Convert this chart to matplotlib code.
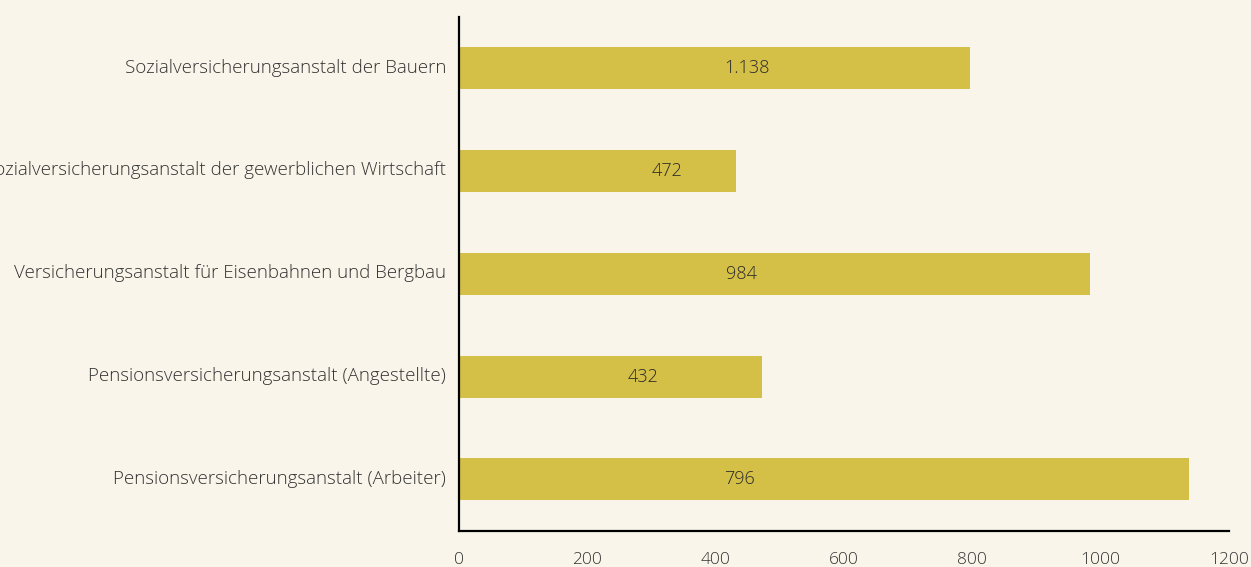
import matplotlib
matplotlib.use("Agg")
import matplotlib.pyplot as plt
import matplotlib.transforms as mtransforms

# Daten (von oben nach unten)
categories = [
    "Sozialversicherungsanstalt der Bauern",
    "Sozialversicherungsanstalt der gewerblichen Wirtschaft",
    "Versicherungsanstalt für Eisenbahnen und Bergbau",
    "Pensionsversicherungsanstalt (Angestellte)",
    "Pensionsversicherungsanstalt (Arbeiter)",
]
bar_values = [796, 432, 984, 472, 1138]
value_labels = ["1.138", "472", "984", "432", "796"]
x_ticks = [0, 200, 400, 600, 800, 1000, 1200]

# Lage der Beschriftungen innerhalb der Balken (Datenkoordinaten)
label_x = [450, 324, 440, 287, 438]

bg = "#F9F5EA"
bar_color = "#D4BF47"
text_color = "#333333"

plt.rcParams["font.family"] = ["Open Sans", "DejaVu Sans"]
plt.rcParams["font.weight"] = "light"

fig = plt.figure(figsize=(12.51, 5.67), dpi=100, facecolor=bg)
ax = fig.add_axes([0.3667, 0.064, 0.6155, 0.906])
ax.set_facecolor(bg)

y = list(range(len(categories)))
ax.barh(y, bar_values, height=0.41, color=bar_color)

# Zahlen in den Balken
for yi, lx, lab in zip(y, label_x, value_labels):
    ax.text(lx, yi, lab, ha="center", va="center", fontsize=13, color="#2a2a2a",
            fontweight="light")

ax.set_xlim(0, 1200)
ax.set_ylim(len(categories) - 0.5, -0.5)
ax.set_yticks(y)
ax.set_yticklabels(categories, fontsize=13.5, color=text_color, fontweight="light")
ax.set_xticks(x_ticks)
ax.set_xticklabels([str(t) for t in x_ticks], fontsize=12.5, color=text_color,
                   fontweight="light")
ax.tick_params(axis="y", length=0, pad=9)
ax.tick_params(axis="x", length=0, pad=15)

# Kategorienamen etwas nach oben schieben
shift = mtransforms.ScaledTranslation(0, 2 / 72, fig.dpi_scale_trans)
for lbl in ax.get_yticklabels():
    lbl.set_transform(lbl.get_transform() + shift)

for side in ["top", "right"]:
    ax.spines[side].set_visible(False)
for side in ["left", "bottom"]:
    ax.spines[side].set_linewidth(1.6)
    ax.spines[side].set_color("black")

fig.savefig("out.png", dpi=100, facecolor=bg)
